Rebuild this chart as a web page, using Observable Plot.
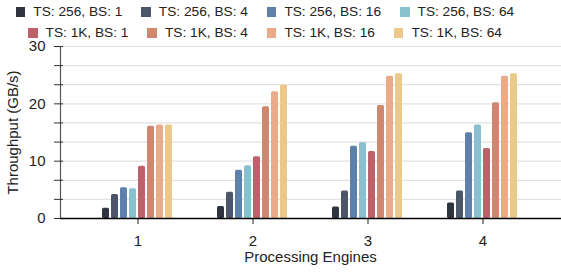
<!DOCTYPE html>
<html><head><meta charset="utf-8">
<script src="https://cdn.jsdelivr.net/npm/d3@7"></script>
<script src="https://cdn.jsdelivr.net/npm/@observablehq/plot@0.6"></script>
<style>
html,body{margin:0;padding:0;background:#fff;font-family:"Liberation Sans",Arial,sans-serif;}
#legend{position:relative;height:30px;width:561px;font-size:13.7px;color:#222;z-index:2;}
.row{position:absolute;left:0;width:530px;display:flex;justify-content:center;column-gap:19px;height:20px;line-height:20px;}
.item{display:flex;align-items:center;white-space:nowrap;}
.sw{width:9.5px;height:10px;margin-right:8px;display:inline-block;}
#chart{position:relative;width:561px;height:242px;}
#chart svg{position:absolute;left:0;top:0;}
</style></head><body>
<div id="legend"></div>
<div id="chart"></div>
<script>
const engines = ["1", "2", "3", "4"];
const configs = ["TS: 256, BS: 1", "TS: 256, BS: 4", "TS: 256, BS: 16", "TS: 256, BS: 64",
                 "TS: 1K, BS: 1", "TS: 1K, BS: 4", "TS: 1K, BS: 16", "TS: 1K, BS: 64"];
const colors = ["#2e3440", "#4c566a", "#5e81ac", "#88c0d0", "#bf616a", "#d08770", "#ebab88", "#ebc98b"];

const ts256bs1  = [1.8, 2.1, 2.0, 2.7];
const ts256bs4  = [4.2, 4.6, 4.8, 4.8];
const ts256bs16 = [5.35, 8.4, 12.6, 14.95];
const ts256bs64 = [5.2, 9.2, 13.2, 16.3];
const ts1kbs1   = [9.1, 10.75, 11.7, 12.2];
const ts1kbs4   = [16.1, 19.5, 19.7, 20.2];
const ts1kbs16  = [16.3, 22.1, 24.8, 24.8];
const ts1kbs64  = [16.3, 23.3, 25.25, 25.25];

const yMajorTicks = [0, 10, 20, 30];
const yMinorTicks = [3.333, 6.667, 13.333, 16.667, 23.333, 26.667];
const yGridTicks = [3.333, 6.667, 10, 13.333, 16.667, 20, 23.333, 26.667, 30];

const series = [ts256bs1, ts256bs4, ts256bs16, ts256bs64, ts1kbs1, ts1kbs4, ts1kbs16, ts1kbs64];
const data = [];
configs.forEach((c, i) => engines.forEach((e, j) => data.push({engine: e, config: c, value: series[i][j]})));

// legend
const legend = document.getElementById("legend");
const rows = [configs.slice(0, 4), configs.slice(4)];
rows.forEach((r, ri) => {
  const row = document.createElement("div");
  row.className = "row";
  row.style.top = (ri === 0 ? 2 : 23) + "px";
  r.forEach(c => {
    const it = document.createElement("div");
    it.className = "item";
    const sw = document.createElement("span");
    sw.className = "sw";
    sw.style.background = colors[configs.indexOf(c)];
    it.appendChild(sw);
    it.appendChild(document.createTextNode(c));
    row.appendChild(it);
  });
  legend.appendChild(row);
});

const font = '"Liberation Sans", Arial, sans-serif';
const common = {
  width: 561, height: 242, marginLeft: 60, marginRight: 0, marginTop: 16, marginBottom: 54
};

// background: grid + y axis
const back = Plot.plot({
  ...common,
  style: {fontFamily: font, fontSize: "15px", color: "#222", background: "transparent"},
  x: {domain: [0, 1], axis: null},
  y: {domain: [0, 30]},
  marks: [
    Plot.ruleY(yGridTicks, {stroke: "#e2e2e2", strokeWidth: 1.2}),
    Plot.ruleX([0], {stroke: "#555", strokeWidth: 1.2}),
    Plot.axisY(yMinorTicks, {tickSize: 9, dx: 3, tickFormat: () => "", label: null, stroke: "#333"}),
    Plot.axisY(yMajorTicks, {tickSize: 9, dx: 3, tickPadding: 9, stroke: "#333", fill: "#222",
      label: "Throughput (GB/s)", labelAnchor: "center", labelArrow: "none", labelOffset: 53})
  ]
});

// middle: grouped bars, faceted by engine
const front = Plot.plot({
  ...common,
  style: {fontFamily: font, fontSize: "15px", color: "#222", background: "transparent"},
  fx: {domain: engines, paddingInner: 0.345, paddingOuter: 0.345, label: "Processing Engines"},
  x: {domain: configs, axis: null, paddingInner: 0.214, paddingOuter: 0},
  y: {domain: [0, 30], axis: null},
  color: {domain: configs, range: colors},
  marks: [
    Plot.barY(data, {fx: "engine", x: "config", y: "value", fill: "config", rx: 1.5}),
    Plot.axisFx({anchor: "bottom", tickSize: 6, tickPadding: 11, stroke: "#222", fill: "#222",
      label: "Processing Engines", labelAnchor: "center", labelOffset: 43})
  ]
});

// top: baseline across the whole frame
const base = Plot.plot({
  ...common,
  style: {background: "transparent"},
  x: {domain: [0, 1], axis: null},
  y: {domain: [0, 30], axis: null},
  marks: [Plot.ruleY([0], {stroke: "#000", strokeWidth: 1.5})]
});

const holder = document.getElementById("chart");
holder.appendChild(back);
holder.appendChild(front);
holder.appendChild(base);
</script>
</body></html>
